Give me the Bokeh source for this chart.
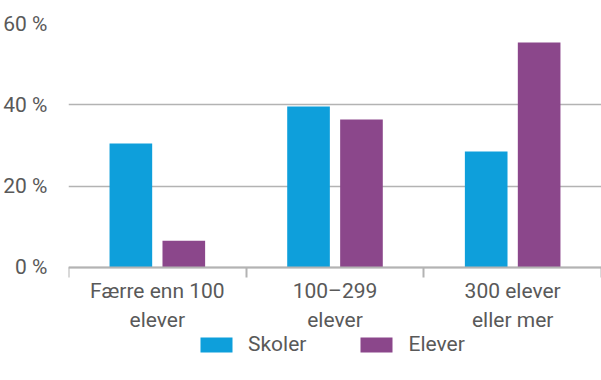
import numpy as np
from bokeh.plotting import figure
from bokeh.models import Range1d, FixedTicker, Legend, LegendItem
from bokeh.embed import file_html
from bokeh.resources import INLINE

# Share of schools and pupils by school size
categories = ["Færre enn 100\nelever", "100–299\nelever", "300 elever\neller mer"]
skoler = [30.5, 39.6, 28.5]
elever = [6.6, 36.4, 55.3]
y_ticks = [0, 20, 40, 60]
y_labels = ["0 %", "20 %", "40 %", "60 %"]

FONT = "Roboto"
TEXT = "#595959"
GRID = "#b3b3b3"
BLUE = "#0e9fdb"
PURPLE = "#8b478b"

idx = np.arange(len(categories))
centers = idx + 0.5

# The frame reaches down to the bottom edge so the legend can sit under the
# category labels; the x axis is pinned at y = 0.
p = figure(frame_width=533, frame_height=357, output_backend="svg", toolbar_location=None,
           x_range=Range1d(0, len(categories)), y_range=Range1d(-27.8, 60))
p.min_border_left = 68
p.min_border_right = 0
p.min_border_top = 23
p.min_border_bottom = 0
p.outline_line_color = None
p.background_fill_color = "white"
p.border_fill_color = "white"

r1 = p.vbar(x=centers - 0.149, top=skoler, width=0.24, color=BLUE, line_color=None)
r2 = p.vbar(x=centers + 0.149, top=elever, width=0.24, color=PURPLE, line_color=None)

# x axis: labels at category centres, separator ticks at the boundaries
xa = p.xaxis[0]
xa.fixed_location = 0
xa.ticker = FixedTicker(ticks=list(centers), minor_ticks=list(range(len(categories) + 1)))
xa.major_label_overrides = {float(c): lab for c, lab in zip(centers, categories)}
xa.major_tick_out = 0
xa.major_tick_in = 0
xa.minor_tick_out = 10
xa.minor_tick_in = 0
xa.minor_tick_line_color = GRID
xa.minor_tick_line_width = 2
xa.axis_line_color = GRID
xa.axis_line_width = 2
xa.major_label_text_font = FONT
xa.major_label_text_font_size = "21px"
xa.major_label_text_color = TEXT
xa.major_label_standoff = 2
p.xgrid.grid_line_color = None

ya = p.yaxis[0]
ya.ticker = FixedTicker(ticks=y_ticks)
ya.major_label_overrides = {t: lab for t, lab in zip(y_ticks, y_labels)}
ya.axis_line_color = None
ya.major_tick_line_color = None
ya.minor_tick_line_color = None
ya.major_label_text_font = FONT
ya.major_label_text_font_size = "21px"
ya.major_label_text_color = TEXT
ya.major_label_standoff = 15
p.ygrid.grid_line_color = GRID
p.ygrid.grid_line_width = 1.5

legend = Legend(items=[LegendItem(label="Skoler", renderers=[r1]),
                       LegendItem(label="Elever", renderers=[r2])],
                orientation="horizontal", location=(128, 24))
legend.glyph_width = 40
legend.glyph_height = 19
legend.label_height = 19
legend.label_text_font = FONT
legend.label_text_font_size = "21px"
legend.label_text_color = TEXT
legend.label_standoff = 12
legend.spacing = 50
legend.border_line_color = None
legend.background_fill_alpha = 0
legend.padding = 0
legend.margin = 0
p.add_layout(legend, "center")

open("out.html", "w").write(file_html(p, INLINE))
